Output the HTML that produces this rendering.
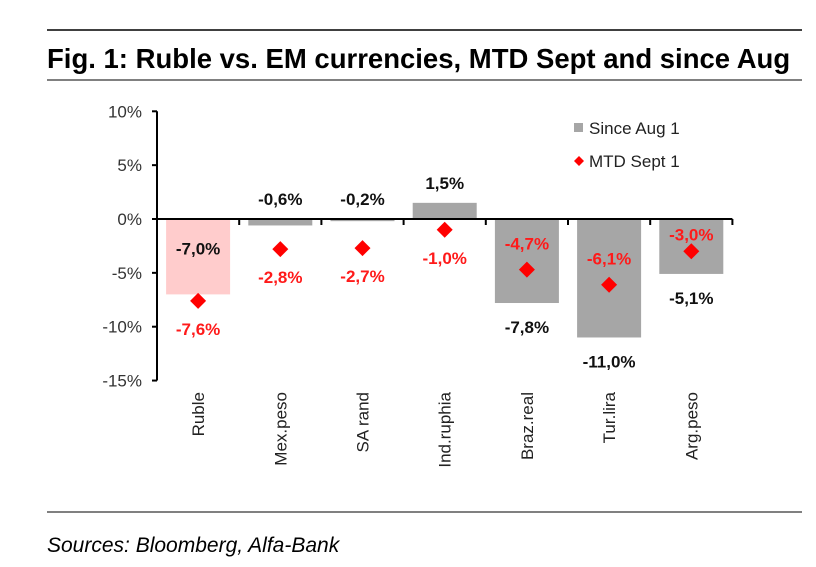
<!DOCTYPE html>
<html><head><meta charset="utf-8"><style>
body{margin:0;background:#fff;width:816px;height:562px;overflow:hidden;font-family:"Liberation Sans",Arial,sans-serif}
</style></head><body>
<svg width="816" height="562">
<line x1="47" y1="30" x2="802" y2="30" stroke="#000" stroke-width="1.5"/>
<text x="47" y="68" font-size="27.5" font-weight="bold" fill="#000">Fig. 1: Ruble vs. EM currencies, MTD Sept and since Aug</text>
<line x1="47" y1="80" x2="802" y2="80" stroke="#000" stroke-width="1"/>
<line x1="47" y1="512" x2="802" y2="512" stroke="#000" stroke-width="1"/>
<text x="47" y="552" font-size="21" font-style="italic" fill="#000">Sources: Bloomberg, Alfa-Bank</text>
<g id="plot"></g>
<g>
<rect x="574" y="123" width="9" height="9" fill="#a6a6a6"/>
<text x="589" y="134" font-size="17" fill="#222">Since Aug 1</text>
<polygon points="579,156 584,161 579,166 574,161" fill="#ff0000"/>
<text x="589" y="167" font-size="17" fill="#222">MTD Sept 1</text>
</g>
</svg>
<script>
const categories=["Ruble","Mex.peso","SA rand","Ind.ruphia","Braz.real","Tur.lira","Arg.peso"];
const sinceAug=[-7.0,-0.6,-0.2,1.5,-7.8,-11.0,-5.1];
const mtdSept=[-7.6,-2.8,-2.7,-1.0,-4.7,-6.1,-3.0];
const yTicks=[10,5,0,-5,-10,-15];
const NS="http://www.w3.org/2000/svg";
const g=document.getElementById('plot');
const x0=157,step=82.2,barW=64;
const y=v=>219-v*10.77;
const cx=i=>x0+step*(i+0.5);
const fmt=v=>v.toFixed(1).replace('.',',')+'%';
function mk(t,a){const e=document.createElementNS(NS,t);for(const k in a)e.setAttribute(k,a[k]);g.appendChild(e);return e;}
sinceAug.forEach((v,i)=>{
 const r=mk('rect',{x:cx(i)-barW/2,y:Math.min(y(v),y(0)),width:barW,height:Math.abs(y(v)-y(0)),fill:i===0?'#ffcccc':'#a6a6a6'});
 
 
});
const ax=mk('line',{x1:x0,y1:y(10),x2:x0,y2:y(-15),stroke:'#000','stroke-width':2});


const xa=mk('line',{x1:x0,y1:y(0),x2:x0+step*categories.length,y2:y(0),stroke:'#000','stroke-width':2});


yTicks.forEach(t=>{
 const tk=mk('line',{x1:x0-5,y1:y(t),x2:x0,y2:y(t),stroke:'#000','stroke-width':2});
 
 
 const tx=mk('text',{x:x0-15,y:y(t)+6,'text-anchor':'end','font-size':17,fill:'#333'});
 tx.textContent=t+'%';
 
 
});
for(let i=1;i<=categories.length;i++){
 const tk=mk('line',{x1:x0+step*i,y1:y(0),x2:x0+step*i,y2:y(0)+6,stroke:'#000','stroke-width':2});
 
 
}
categories.forEach((c,i)=>{
 const t=mk('text',{x:0,y:0,'text-anchor':'end','font-size':17,fill:'#222',transform:`translate(${cx(i)+6},392) rotate(-90)`});
 t.textContent=c;
 
 
});
sinceAug.forEach((v,i)=>{
 let ly;
 if(i===0) ly=y(v)/2+y(0)/2-8;
 else if(v>-1) ly=y(Math.max(v,0))-20;
 else ly=y(v)+24;
 const t=mk('text',{x:cx(i),y:ly+6,'text-anchor':'middle','font-size':17,'font-weight':'bold',fill:'#111'});
 t.textContent=fmt(v);
 
 
});
mtdSept.forEach((v,i)=>{
 const px=cx(i),py=y(v),s=8;
 const d=mk('polygon',{points:`${px},${py-s} ${px+s},${py} ${px},${py+s} ${px-s},${py}`,fill:'#ff0000'});
 
 
 const ly=i<4?py+28:(i===6?py-17:py-26);
 const t=mk('text',{x:px,y:ly+6,'text-anchor':'middle','font-size':17,'font-weight':'bold',fill:'#ff1a1a'});
 t.textContent=fmt(v);
 
 
});
</script>
</body></html>
